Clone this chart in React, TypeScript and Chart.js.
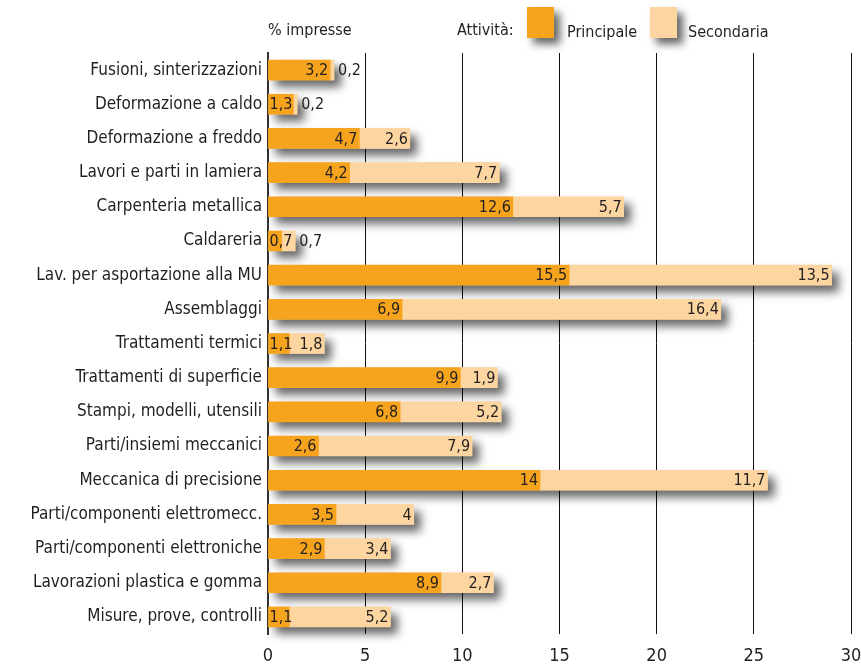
import React, { useEffect, useRef } from "react";
import { Chart, registerables } from "chart.js";

Chart.register(...registerables);

const categories = [
  "Fusioni, sinterizzazioni",
  "Deformazione a caldo",
  "Deformazione a freddo",
  "Lavori e parti in lamiera",
  "Carpenteria metallica",
  "Caldareria",
  "Lav. per asportazione alla MU",
  "Assemblaggi",
  "Trattamenti termici",
  "Trattamenti di superficie",
  "Stampi, modelli, utensili",
  "Parti/insiemi meccanici",
  "Meccanica di precisione",
  "Parti/componenti elettromecc.",
  "Parti/componenti elettroniche",
  "Lavorazioni plastica e gomma",
  "Misure, prove, controlli",
];
const principale = [3.2, 1.3, 4.7, 4.2, 12.6, 0.7, 15.5, 6.9, 1.1, 9.9, 6.8, 2.6, 14, 3.5, 2.9, 8.9, 1.1];
const secondaria = [0.2, 0.2, 2.6, 7.7, 5.7, 0.7, 13.5, 16.4, 1.8, 1.9, 5.2, 7.9, 11.7, 4, 3.4, 2.7, 5.2];
const xTicks = [0, 5, 10, 15, 20, 25, 30];

const ORANGE = "#F6A31E";
const LIGHT = "#FDD5A0";
const TEXT = "#231f20";
const FONT = "'Liberation Sans Narrow', 'DejaVu Sans Condensed', sans-serif";

const fmt = (v: number) => String(v).replace(".", ",");

const shadowPlugin = {
  id: "barShadow",
  beforeDatasetsDraw(chart: any) {
    const ctx = chart.ctx;
    const m0 = chart.getDatasetMeta(0);
    const m1 = chart.getDatasetMeta(1);
    ctx.save();
    ctx.shadowColor = "rgba(0,0,0,0.6)";
    ctx.shadowBlur = 10;
    ctx.shadowOffsetX = 7;
    ctx.shadowOffsetY = 7;
    ctx.fillStyle = LIGHT;
    m1.data.forEach((el: any, i: number) => {
      const start = m0.data[i].base;
      const h = el.height;
      ctx.fillRect(start, el.y - h / 2, el.x - start, h);
    });
    ctx.restore();
  },
  afterDatasetsDraw(chart: any) {
    const ctx = chart.ctx;
    const m0 = chart.getDatasetMeta(0);
    const m1 = chart.getDatasetMeta(1);
    ctx.save();
    ctx.font = `16px ${FONT}`;
    ctx.fillStyle = TEXT;
    ctx.textBaseline = "middle";
    m0.data.forEach((el: any, i: number) => {
      const txt = fmt(principale[i]);
      const w = ctx.measureText(txt).width;
      const segW = el.x - el.base;
      if (w + 3 > segW) {
        ctx.textAlign = "left";
        ctx.fillText(txt, el.base + 1, el.y + 1);
      } else {
        ctx.textAlign = "right";
        ctx.fillText(txt, el.x - 2, el.y + 1);
      }
    });
    m1.data.forEach((el: any, i: number) => {
      const txt = fmt(secondaria[i]);
      const w = ctx.measureText(txt).width;
      const segW = el.x - el.base;
      if (w + 3 > segW) {
        ctx.textAlign = "left";
        ctx.fillText(txt, el.x + 4, el.y + 1);
      } else {
        ctx.textAlign = "right";
        ctx.fillText(txt, el.x - 2, el.y + 1);
      }
    });
    ctx.restore();
  },
  afterDraw(chart: any) {
    const ctx = chart.ctx;
    ctx.save();
    ctx.font = `16px ${FONT}`;
    ctx.fillStyle = TEXT;
    ctx.textBaseline = "alphabetic";
    ctx.textAlign = "left";
    ctx.fillText("% impresse", 268, 35);
    ctx.fillText("Attività:", 457, 35);
    const boxes = [
      { x: 527, color: ORANGE, label: "Principale", tx: 567 },
      { x: 650, color: LIGHT, label: "Secondaria", tx: 688 },
    ];
    boxes.forEach((b) => {
      ctx.save();
      ctx.shadowColor = "rgba(0,0,0,0.6)";
      ctx.shadowBlur = 8;
      ctx.shadowOffsetX = 6;
      ctx.shadowOffsetY = 6;
      ctx.fillStyle = b.color;
      ctx.fillRect(b.x, 7, 27, 31);
      ctx.restore();
      ctx.fillText(b.label, b.tx, 37);
    });
    ctx.restore();
  },
};

export default function App() {
  const ref = useRef<HTMLCanvasElement | null>(null);
  useEffect(() => {
    if (!ref.current) return;
    const chart = new Chart(ref.current, {
      type: "bar",
      data: {
        labels: categories,
        datasets: [
          { label: "Principale", data: principale, backgroundColor: ORANGE, barThickness: 20 },
          { label: "Secondaria", data: secondaria, backgroundColor: LIGHT, barThickness: 20 },
        ],
      },
      options: {
        indexAxis: "y",
        animation: false,
        responsive: false,
        maintainAspectRatio: false,
        layout: { padding: { top: 53, right: 10, left: 0, bottom: 0 } },
        plugins: { legend: { display: false }, tooltip: { enabled: false } },
        scales: {
          x: {
            stacked: true,
            min: 0,
            max: 30,
            afterBuildTicks: (s: any) => {
              s.ticks = xTicks.map((v) => ({ value: v }));
            },
            afterFit: (s: any) => {
              s.height = 33;
              s.paddingLeft = 0;
              s.paddingRight = 0;
            },
            grid: { color: "#111", lineWidth: 1, drawTicks: false },
            border: { display: false },
            ticks: { color: TEXT, font: { family: FONT, size: 18 }, padding: 12, maxRotation: 0 },
          },
          y: {
            stacked: true,
            afterFit: (s: any) => {
              s.width = 268;
              s.paddingTop = 0;
              s.paddingBottom = 0;
            },
            grid: { display: false, drawTicks: false },
            border: { display: true, color: "#333", width: 2 },
            ticks: { color: TEXT, font: { family: FONT, size: 17 }, padding: 6, autoSkip: false },
          },
        },
      },
      plugins: [shadowPlugin],
    });
    return () => chart.destroy();
  }, []);
  return (
    <div style={{ position: "absolute", left: 0, top: 0, width: 861, height: 667, background: "#fff" }}>
      <canvas ref={ref} width={861} height={667} style={{ width: 861, height: 667 }} />
    </div>
  );
}
